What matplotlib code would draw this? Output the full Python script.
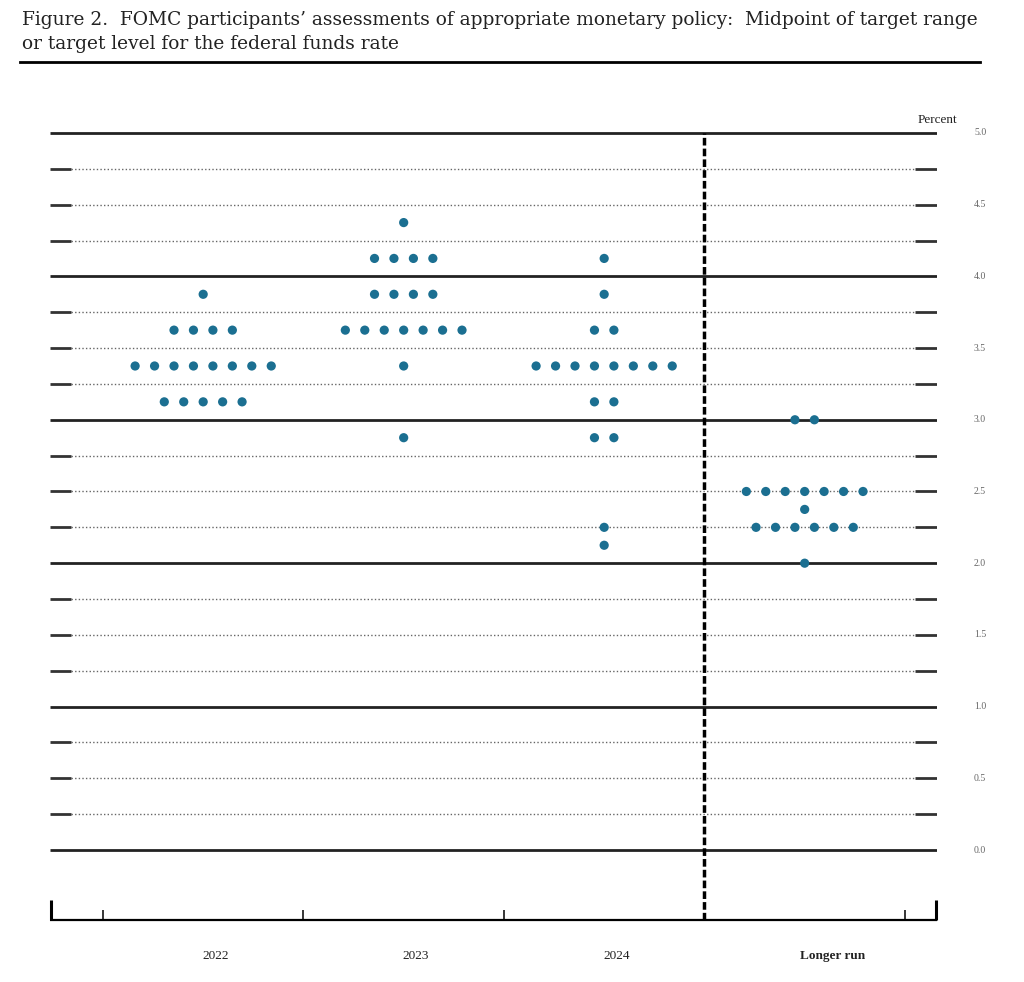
import numpy as np
import matplotlib
matplotlib.use("Agg")
import matplotlib.pyplot as plt
from matplotlib.lines import Line2D

# dot plot data (midpoint of target range, number of participants)
periods = ["2022", "2023", "2024", "Longer run"]
rates_2022 = [3.875, 3.625, 3.375, 3.125]
counts_2022 = [1, 4, 8, 5]
rates_2023 = [4.375, 4.125, 3.875, 3.625, 3.375, 2.875]
counts_2023 = [1, 4, 4, 7, 1, 1]
rates_2024 = [4.125, 3.875, 3.625, 3.375, 3.125, 2.875, 2.25, 2.125]
counts_2024 = [1, 1, 2, 8, 2, 2, 1, 1]
rates_lr = [3.0, 2.5, 2.375, 2.25, 2.0]
counts_lr = [2, 7, 1, 6, 1]
y_labels = ["0.0", "0.5", "1.0", "1.5", "2.0", "2.5", "3.0", "3.5", "4.0", "4.5", "5.0"]

title1 = "Figure 2.  FOMC participants\u2019 assessments of appropriate monetary policy:  Midpoint of target range"
title2 = "or target level for the federal funds rate"

dot_col = "#1b6f91"
serif = ["Liberation Serif", "DejaVu Serif"]
tserif = ["DejaVu Serif"]

fig = plt.figure(figsize=(10.24, 9.82), dpi=100)
ax = fig.add_axes([50 / 1024, 62 / 982, 887 / 1024, 810 / 982])
x0, x1 = 0.236, 4.66
ax.set_xlim(x0, x1)
ax.set_ylim(-0.488, 5.16)
ax.axis("off")

# horizontal grid every 0.25
for k in range(21):
    lev = k * 0.25
    if k % 4 == 0:
        ax.hlines(lev, x0, x1, color="#222222", lw=2.0, zorder=1)
    else:
        ax.hlines(lev, 0.34, 4.55, color="#666666", lw=1.0,
                  linestyles=[(0, (1, 1.6))], zorder=1)
        ax.hlines(lev, x0, 0.34, color="#333333", lw=2.0, zorder=1)
        ax.hlines(lev, 4.55, x1, color="#333333", lw=2.0, zorder=1)

# dots
spacing = 0.097
groups = [(rates_2022, counts_2022), (rates_2023, counts_2023),
          (rates_2024, counts_2024), (rates_lr, counts_lr)]
for gi, (rates, counts) in enumerate(groups):
    center = gi + 1
    for r, n in zip(rates, counts):
        xs = center + (np.arange(n) - (n - 1) / 2) * spacing
        ax.scatter(xs, [r] * n, s=44, color=dot_col, edgecolors="none", zorder=3)

# vertical dashed separator
ax.vlines(3.5, -0.488, 5.0, color="black", lw=2.5,
          linestyles=[(0, (2.2, 0.9))], zorder=2)

# bottom axis with ticks
ax.hlines(-0.488, x0, x1, color="black", lw=1.6, clip_on=False)
ax.vlines([x0 + 0.003, x1 - 0.003], -0.488, -0.349, color="black", lw=2.2, clip_on=False)
ax.vlines([0.5, 1.5, 2.5, 4.5], -0.488, -0.418, color="black", lw=1.1, clip_on=False)

label_x = [1.06, 2.06, 3.06, 4.14]
for lx, p in zip(label_x, periods):
    ax.text(lx, -0.74, p, ha="center", va="center", fontsize=9.5,
            family=serif, color="#222222",
            fontweight="bold" if p == "Longer run" else "normal", clip_on=False)

# right side percent labels
for i, lab in enumerate(y_labels):
    ax.text(4.875, i * 0.5, lab, ha="center", va="center", fontsize=7,
            family=serif, color="#666666", clip_on=False)
ax.text(4.66, 5.09, "Percent", ha="center", va="center", fontsize=9.5,
        family=serif, color="#222222", clip_on=False)

# title and rule; first line sized to span the rule like the justified original
t1 = fig.text(22 / 1024, 1 - 20 / 982, title1, ha="left", va="center", fontsize=12,
              family=tserif, color="#222222")
fig.canvas.draw()
w = t1.get_window_extent().width
fs = 12 * 958 / w
t1.set_fontsize(fs)
fig.text(22 / 1024, 1 - 44 / 982, title2, ha="left", va="center", fontsize=fs,
         family=tserif, color="#222222")
fig.add_artist(Line2D([20 / 1024, 980 / 1024], [1 - 62 / 982] * 2,
                      color="black", lw=2.0))

fig.savefig("out.png", dpi=100)
